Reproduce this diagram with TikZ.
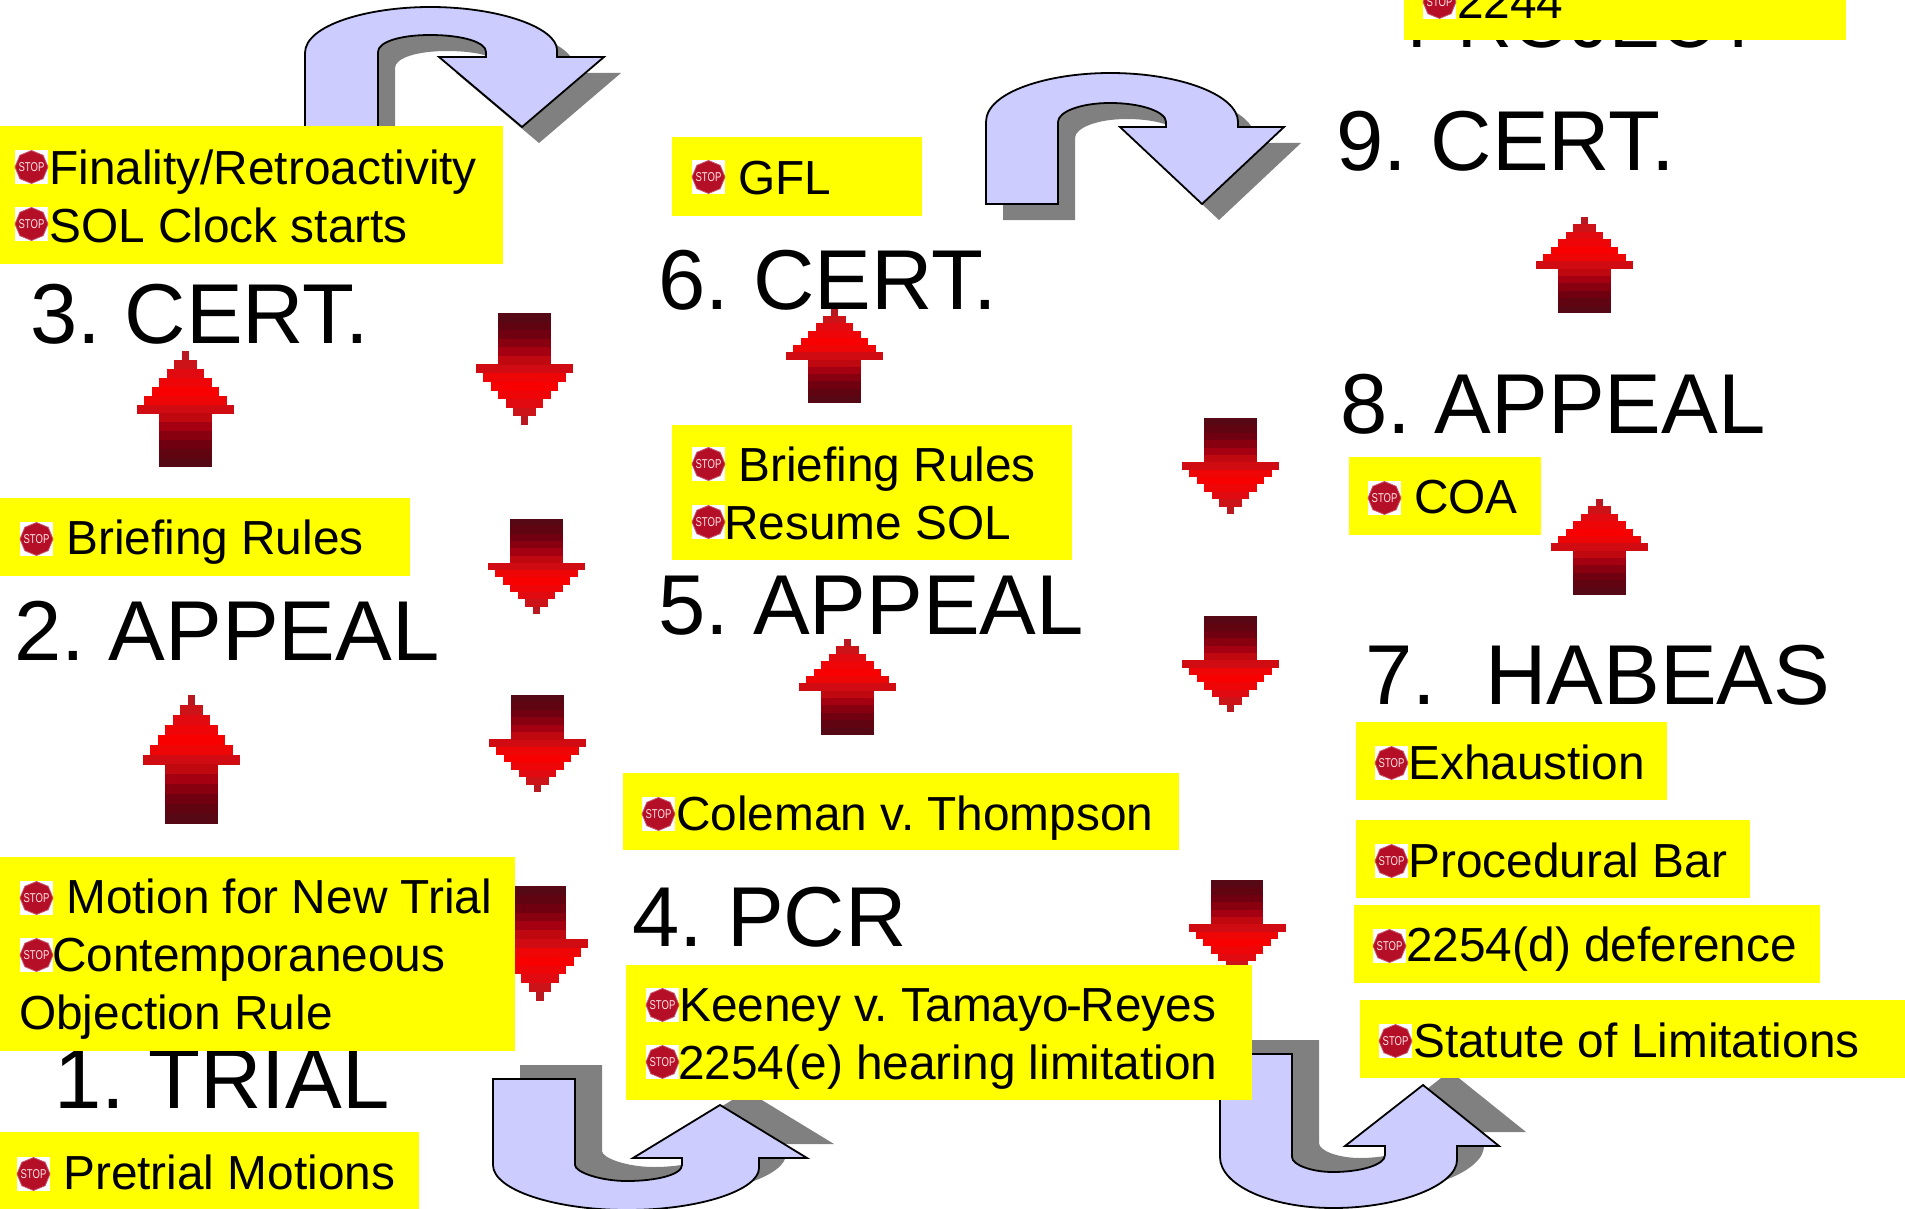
\documentclass[tikz,border=0pt]{standalone}
\usepackage{fontspec}
\setmainfont{Liberation Sans}
\usetikzlibrary{shapes.geometric}
\frenchspacing
\definecolor{bendblue}{RGB}{204,204,255}
\definecolor{shadowgray}{RGB}{128,128,128}
\definecolor{boxyellow}{RGB}{255,255,0}
\definecolor{stopred}{HTML}{B50F28}
\definecolor{rw0}{HTML}{B8181F}
\definecolor{rw1}{HTML}{CC1418}
\definecolor{rw2}{HTML}{E00A10}
\definecolor{rw3}{HTML}{EE0508}
\definecolor{rw4}{HTML}{F80000}
\definecolor{rw5}{HTML}{EE0505}
\definecolor{rw6}{HTML}{D00C12}
\definecolor{rw7}{HTML}{C00810}
\definecolor{rw8}{HTML}{A40012}
\definecolor{rw9}{HTML}{880010}
\definecolor{rw10}{HTML}{70000F}
\definecolor{rw11}{HTML}{600412}
\definecolor{rw12}{HTML}{560815}
\tikzstyle{bigtext}=[font=\fontsize{85}{85}\selectfont,anchor=base west,inner sep=0pt]
\tikzstyle{boxtext}=[font=\fontsize{47.8}{48}\selectfont,anchor=base west,inner sep=0pt]
\tikzstyle{stopsign}=[regular polygon,regular polygon sides=8,shape border rotate=22.5,fill=stopred,draw=stopred!70!white,line width=.8pt,minimum size=33pt,inner sep=0pt]
\tikzstyle{stopword}=[text=white!90!red,font=\fontsize{9.5}{9.5}\selectfont,inner sep=0pt,yscale=1.35,transform shape]
\tikzstyle{bendarrow}=[fill=bendblue,draw=black,line width=1.8pt,line join=miter]
\tikzset{
  redarrow/.pic={
    \begin{scope}[x=7.46pt,y=#1pt]
    \foreach \row/\half in {0/.5, 1/1.5, 2/2.5, 3/3.5, 4/4.5, 5/5.5, 6/6.5, 7/3.5, 8/3.5, 9/3.5, 10/3.5, 11/3.5, 12/3.5}
      \fill[rw\row] (-\half,\row) rectangle (\half,\row+1.04);
    \end{scope}
  },
  stopicon/.pic={
    \fill[white] (0,0) rectangle (33,34);
    \node[stopsign] (-sign) at (16.5,17) {};
    \node[stopword] (-word) at (16.5,17) {STOP};
  }
}

\begin{document}
\begin{tikzpicture}[x=1pt,y=-1pt]
\useasboundingbox (0,0) rectangle (1905,1209);
\clip (0,0) rectangle (1905,1209);

\node[bigtext,font=\fontsize{76}{76}\selectfont] (project) at (1407,48) {PROJECT};

\foreach \pos/\name/\txt in {{(1336,171)/cert9/9. CERT.}, {(1340,433)/appeal8/8. APPEAL}, {(1365,704)/habeas7/7.\ \ \kern2pt HABEAS}, {(658.5,309.5)/cert6/6. CERT.}, {(658.5,634)/appeal5/5. APPEAL}, {(632.5,946)/pcr4/4. PCR}, {(30,343)/cert3/3. CERT.}, {(14,660)/appeal2/2. APPEAL}, {(54,1108)/trial1/1. TRIAL}}
    \node[bigtext] (\name) at \pos {\txt};

% blue bent arrows
\tikzset{shadow15/.style={preaction={draw=none,fill=shadowgray,transform canvas={shift={(17pt,-16pt)}}}},
         shadow28/.style={preaction={draw=none,fill=shadowgray,transform canvas={shift={(27pt,14pt)}}}}}
\draw[bendarrow,shadow15] (305,127) -- (305,53) .. controls (305,25) and (368,7) .. (430,7) .. controls (500,7) and (557,28) .. (557,50) -- (557,57) -- (604,57) -- (522,127) -- (439,57) -- (486,57) -- (486,52) .. controls (486,42) and (462,35) .. (430,35) .. controls (400,35) and (378,42) .. (378,52) -- (378,127) -- cycle;
\draw[bendarrow,shadow15] (986,204) -- (986,122) .. controls (986,92) and (1048,73) .. (1110,73) .. controls (1180,73) and (1238,95) .. (1238,122) -- (1238,127) -- (1284,127) -- (1202,204) -- (1120,127) -- (1166,127) -- (1166,122) .. controls (1166,112) and (1142,103) .. (1110,103) .. controls (1080,103) and (1058,112) .. (1058,122) -- (1058,204) -- cycle;
\draw[bendarrow,shadow28] (493,1079) -- (575,1079) -- (575,1165) .. controls (575,1172) and (600,1181) .. (627,1181) .. controls (655,1181) and (682,1175) .. (682,1165) -- (682,1158) -- (633,1158) -- (720,1105) -- (807,1158) -- (759,1158) -- (759,1168) .. controls (759,1190) and (700,1210) .. (627,1210) .. controls (555,1210) and (493,1190) .. (493,1165) -- cycle;
\draw[bendarrow,shadow28] (1220,1054) -- (1292,1054) -- (1292,1157) .. controls (1292,1165) and (1312,1172) .. (1333,1172) .. controls (1360,1172) and (1385,1165) .. (1385,1155) -- (1385,1146) -- (1345,1146) -- (1423,1085) -- (1499,1146) -- (1457,1146) -- (1457,1160) .. controls (1457,1185) and (1400,1208) .. (1333,1208) .. controls (1270,1208) and (1220,1185) .. (1220,1157) -- cycle;

% red arrows, tip at the given point
\foreach \pos/\len in {{(185.5,351)/116}, {(191.5,695)/129}, {(834.5,309)/94}, {(847.5,639)/96}, {(1599.5,499)/96}, {(1584.5,217)/96}}{
    \pgfmathsetmacro\rowh{-\len/13}
    \pic at \pos {redarrow=\rowh};
}
\foreach \pos/\len in {{(524.5,425)/112}, {(536.5,614)/95}, {(537.5,792)/97}, {(540,1001)/115}, {(1230.5,514)/96}, {(1230.5,712)/96}, {(1237,976)/96}}{
    \pgfmathsetmacro\rowh{\len/13}
    \pic at \pos {redarrow=\rowh};
}

% yellow boxes
\foreach \from/\to in {{(1404,-30)/(1846,40)}, {(0,126)/(503,264)}, {(672,137)/(922,216)}, {(672,425)/(1072,560)}, {(0,498)/(410,576)}, {(623,773)/(1179,850)}, {(0,857)/(515,1051)}, {(0,1132)/(419,1209)}, {(626,965)/(1252,1100)}, {(1349,457)/(1541,535)}, {(1356,722)/(1667,800)}, {(1356,820)/(1750,898)}, {(1354,905)/(1820,983)}, {(1360,1000)/(1905,1078)}}
    \fill[boxyellow] \from rectangle \to;

\foreach \pos [count=\n] in {(15,150), (15,207), (692,160), (692,447), (692,505), (20,522), (642,797), (20,881), (20,938), (17,1157), (646,988), (646,1045), (1368,481), (1375,746), (1375,844), (1373,929), (1379,1024), (1423,-15)}
    \pic (stop\n) at \pos {stopicon};

\foreach \pos/\name/\txt in {{(49,185)/final/{Finality/Retroactivity}}, {(49,242)/sol/SOL Clock starts}, {(738,195)/gfl/GFL}, {(738,481)/brief5/Briefing Rules}, {(724,539)/resume/Resume SOL}, {(66,554)/brief2/Briefing Rules}, {(676,830)/coleman/Coleman v. Thompson}, {(66,913)/motion/Motion for New Trial}, {(52,971)/contemp/Contemporaneous}, {(19,1029)/objection/Objection Rule}, {(63,1189)/pretrial/Pretrial Motions}, {(679,1021)/keeney/Keeney v. Tamayo\kern-2pt-\kern-2pt Reyes}, {(678,1079)/hearing/2254(e) hearing limitation}, {(1414,513)/coa/COA}, {(1408,779)/exhaust/Exhaustion}, {(1408,877)/procbar/Procedural Bar}, {(1406,961)/defer/2254(d) deference}, {(1413,1057)/limit/Statute of Limitations}, {(1457,19)/sec2244/2244}}
    \node[boxtext] (\name) at \pos {\txt};

\end{tikzpicture}
\end{document}
